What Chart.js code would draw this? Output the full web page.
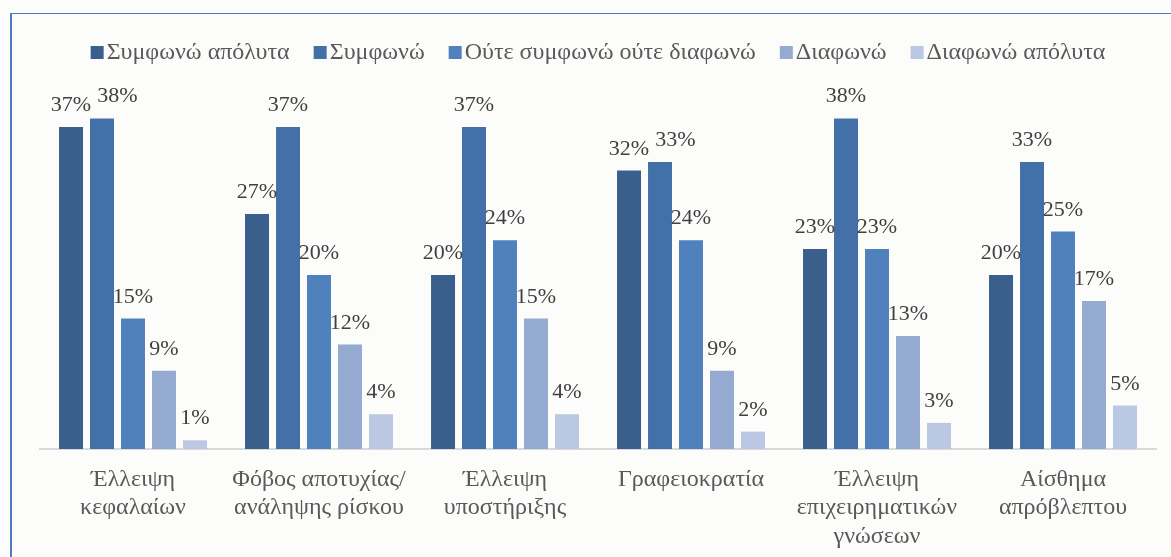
<!DOCTYPE html>
<html>
<head>
<meta charset="utf-8">
<script src="https://cdn.jsdelivr.net/npm/chart.js@4.4.1/dist/chart.umd.min.js"></script>
<style>
  html, body { margin: 0; padding: 0; background: #FCFDFB; }
  #wrap { position: relative; width: 1171px; height: 557px; overflow: hidden; }
  #frame { position: absolute; left: 10px; top: 13px; width: 1300px; height: 700px;
           border-left: 2px solid #4A7EBF; border-top: 1.5px solid #4A7EBF; pointer-events: none; }
  canvas { position: absolute; left: 0; top: 0; }
</style>
</head>
<body>
<div id="wrap">
  <canvas id="c" width="1171" height="557"></canvas>
  <div id="frame"></div>
</div>
<script>
const categories = [
  ["Έλλειψη", "κεφαλαίων"],
  ["Φόβος αποτυχίας/", "ανάληψης ρίσκου"],
  ["Έλλειψη", "υποστήριξης"],
  ["Γραφειοκρατία"],
  ["Έλλειψη", "επιχειρηματικών", "γνώσεων"],
  ["Αίσθημα", "απρόβλεπτου"]
];
const seriesNames = ["Συμφωνώ απόλυτα", "Συμφωνώ", "Ούτε συμφωνώ ούτε διαφωνώ", "Διαφωνώ", "Διαφωνώ απόλυτα"];
const agreeFully    = [37, 27, 20, 32, 23, 20];
const agree         = [38, 37, 37, 33, 38, 33];
const neutral       = [15, 20, 24, 24, 23, 25];
const disagree      = [9, 12, 15, 9, 13, 17];
const disagreeFully = [1, 4, 4, 2, 3, 5];
const seriesColors = ["#3A5F8D", "#4371A7", "#4F81BD", "#95AAD0", "#BBC8E3"];

const FONT = "'Liberation Serif', 'Times New Roman', serif";

const valueLabels = {
  id: 'valueLabels',
  afterDatasetsDraw(chart) {
    const ctx = chart.ctx;
    ctx.save();
    ctx.font = "22px " + FONT;
    ctx.fillStyle = "#404040";
    ctx.textAlign = "left";
    ctx.textBaseline = "alphabetic";
    const n = chart.data.labels.length;
    const h = 17;
    for (let i = 0; i < n; i++) {
      let prev = null;
      chart.data.datasets.forEach((ds, di) => {
        const el = chart.getDatasetMeta(di).data[i];
        const txt = ds.data[i] + "%";
        const w = ctx.measureText(txt).width;
        let x = el.x - w / 2;
        const y = el.y - 16;
        if (prev && Math.abs(prev.y - y) < h && x < prev.r + 3) {
          x = prev.r + 6;
        }
        ctx.fillText(txt, x, y);
        prev = { r: x + w, y: y };
      });
    }
    ctx.restore();
  }
};

const customLegend = {
  id: 'customLegend',
  afterDraw(chart) {
    const ctx = chart.ctx;
    ctx.save();
    ctx.font = "24px " + FONT;
    ctx.textBaseline = "alphabetic";
    const box = 13, gap = 3, spacing = 24;
    const widths = seriesNames.map(s => ctx.measureText(s).width);
    const total = widths.reduce((a, b) => a + b + box + gap, 0) + spacing * (seriesNames.length - 1);
    const cx = (chart.chartArea.left + chart.chartArea.right) / 2;
    let x = cx - total / 2;
    seriesNames.forEach((s, i) => {
      ctx.fillStyle = seriesColors[i];
      ctx.fillRect(x, 46, box, box);
      ctx.fillStyle = "#595959";
      ctx.fillText(s, x + box + gap, 59);
      x += box + gap + widths[i] + spacing;
    });
    ctx.restore();
  }
};

const allSeries = [agreeFully, agree, neutral, disagree, disagreeFully];

new Chart(document.getElementById('c'), {
  type: 'bar',
  data: {
    labels: categories,
    datasets: allSeries.map((d, i) => ({
      label: seriesNames[i],
      data: d,
      backgroundColor: seriesColors[i],
      borderWidth: 0,
      categoryPercentage: 0.833,
      barPercentage: 0.774
    }))
  },
  options: {
    responsive: false,
    animation: false,
    devicePixelRatio: 1,
    layout: { padding: { left: 40, right: 15, top: 101, bottom: 0 } },
    plugins: { legend: { display: false }, tooltip: { enabled: false } },
    scales: {
      x: {
        grid: { display: false, drawTicks: false },
        border: { display: true, color: "#D9D9D9", width: 2 },
        ticks: {
          color: "#595959",
          font: { family: FONT, size: 24, lineHeight: 1.2 },
          padding: 16,
          maxRotation: 0,
          autoSkip: false
        },
        afterFit(axis) { axis.height = 108; }
      },
      y: {
        display: false,
        min: 0,
        max: 40
      }
    }
  },
  plugins: [valueLabels, customLegend]
});
</script>
</body>
</html>
